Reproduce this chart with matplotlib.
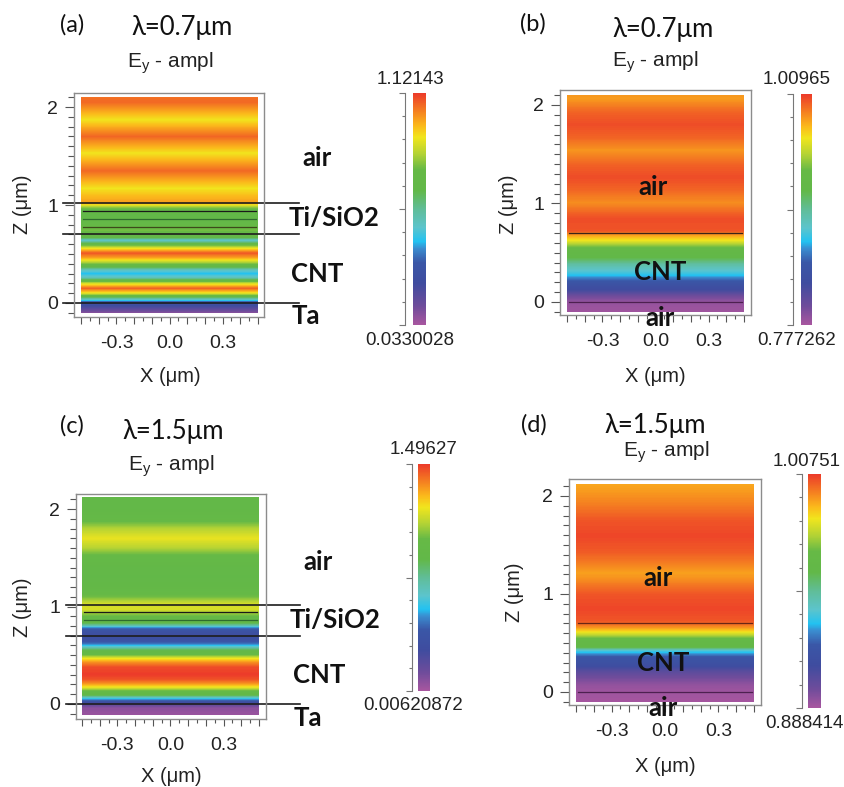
import numpy as np
import matplotlib.pyplot as plt
from matplotlib.colors import LinearSegmentedColormap, Normalize
from matplotlib.cm import ScalarMappable
from matplotlib.ticker import FixedLocator

plt.rcParams['font.family'] = ['Liberation Sans', 'DejaVu Sans']

W, H = 845, 787

# colour scale (fraction of range, colour)
cmap_stops = [0.0, 0.08, 0.18, 0.27, 0.33, 0.36, 0.42, 0.50, 0.58, 0.67, 0.74, 0.81, 0.86, 0.91, 1.0]
cmap_colors = ['#a8569f', '#6f4c9b', '#3f4c9f', '#3a57a7', '#3a8dd0', '#22c2f1', '#5cc4cc', '#60bd98',
               '#62b848', '#66b946', '#b5d334', '#f1e51d', '#fbb91b', '#f68b1f', '#ec3a2a']
cmap = LinearSegmentedColormap.from_list('fdtd', list(zip(cmap_stops, cmap_colors)), N=512)

# |Ey| profile along z (um) for each panel
z_a = [2.10, 2.05, 1.96, 1.87, 1.79, 1.70, 1.61, 1.53, 1.44, 1.35, 1.26, 1.17, 1.09, 1.02, 0.98,
       0.94, 0.90, 0.85, 0.80, 0.74, 0.70, 0.665, 0.64, 0.61, 0.56, 0.51, 0.46, 0.41, 0.36, 0.34,
       0.30, 0.26, 0.20, 0.15, 0.10, 0.065, 0.03, 0.01, -0.02, -0.06, -0.10]
amp_a = [1.056, 1.067, 0.991, 0.915, 0.991, 1.067, 0.991, 0.915, 0.991, 1.067, 0.991, 0.915, 0.969, 1.002, 0.817,
         0.708, 0.664, 0.686, 0.751, 0.773, 0.730, 0.664, 0.490, 0.664, 0.904, 1.089, 0.991, 0.817, 0.632, 0.523,
         0.425, 0.523, 0.882, 1.078, 0.904, 0.686, 0.468, 0.305, 0.251, 0.164, 0.087]

z_b = [2.10, 2.07, 1.93, 1.80, 1.67, 1.54, 1.40, 1.27, 1.14, 1.01, 0.85, 0.72, 0.70, 0.66, 0.62,
       0.57, 0.52, 0.45, 0.38, 0.30, 0.27, 0.22, 0.17, 0.12, 0.06, 0.0, -0.10]
amp_b = [0.986, 0.984, 0.999, 1.005, 0.999, 0.986, 0.999, 1.005, 0.999, 0.988, 1.005, 1.003, 0.993, 0.977, 0.963,
         0.940, 0.921, 0.912, 0.889, 0.870, 0.861, 0.842, 0.828, 0.817, 0.796, 0.784, 0.780]

z_c = [2.12, 2.00, 1.90, 1.80, 1.70, 1.60, 1.50, 1.40, 1.30, 1.20, 1.10, 1.03, 0.97, 0.92, 0.87,
       0.83, 0.80, 0.78, 0.74, 0.70, 0.66, 0.62, 0.60, 0.56, 0.51, 0.47, 0.43, 0.38, 0.30, 0.25,
       0.21, 0.17, 0.13, 0.09, 0.06, 0.03, 0.00, -0.04, -0.11]
amp_c = [0.900, 0.900, 0.960, 1.109, 1.198, 1.109, 0.960, 0.900, 0.885, 0.915, 1.019, 1.154, 1.168, 1.049, 0.930,
         0.870, 0.677, 0.453, 0.334, 0.304, 0.334, 0.453, 0.558, 0.826, 0.975, 1.198, 1.347, 1.466, 1.496, 1.451,
         1.347, 1.198, 0.975, 0.870, 0.602, 0.379, 0.185, 0.066, 0.036]

z_d = [2.12, 2.00, 1.90, 1.75, 1.59, 1.42, 1.28, 1.21, 1.14, 1.00, 0.85, 0.73, 0.70, 0.66, 0.62,
       0.58, 0.53, 0.46, 0.42, 0.39, 0.35, 0.27, 0.21, 0.15, 0.07, 0.0, -0.10]
amp_d = [0.993, 0.996, 0.999, 1.004, 1.006, 1.003, 0.997, 0.994, 0.997, 1.004, 1.006, 1.004, 1.002, 0.996, 0.987,
         0.977, 0.963, 0.960, 0.936, 0.928, 0.918, 0.912, 0.903, 0.898, 0.892, 0.890, 0.889]

# colour bar limits as printed
cb_a = ('0.0330028', '1.12143')
cb_b = ('0.777262', '1.00965')
cb_c = ('0.00620872', '1.49627')
cb_d = ('0.888414', '1.00751')

# layer boundaries (um)
cut_lines_ac = [1.02, 0.70, 0.0]
inner_a = [0.94, 0.857, 0.776]
inner_c = [0.944, 0.86]
inner_bd = [0.70, 0.0]

x_span = [-0.5, 0.5]
x_tick_pos = [-0.3, 0.0, 0.3]
x_tick_labels = ['-0.3', '0.0', '0.3']
z_tick_pos = [0, 1, 2]
z_tick_labels = ['0', '1', '2']

fig = plt.figure(figsize=(W / 100, H / 100), dpi=100)


def px_rect(x0, y0, x1, y1):
    return [x0 / W, 1 - y1 / H, (x1 - x0) / W, (y1 - y0) / H]


def ftext(x, y, s, **kw):
    fig.text(x / W, 1 - y / H, s, ha='center', va='center', **kw)


def draw_panel(frame, xlim, ylim, z, amp, cb_lab, cbar, cb_off):
    vmin, vmax = float(cb_lab[0]), float(cb_lab[1])
    ax = fig.add_axes(px_rect(*frame))
    C = np.column_stack([amp, amp])
    ax.contourf(x_span, z, C, levels=np.linspace(vmin, vmax, 256), cmap=cmap,
                extend='both', antialiased=False)
    ax.set_xlim(xlim)
    ax.set_ylim(ylim)

    xmaj = np.round(np.arange(-0.5, 0.51, 0.1), 2)
    labs = []
    for t in xmaj:
        hit = [l for p, l in zip(x_tick_pos, x_tick_labels) if abs(p - t) < 1e-6]
        labs.append(hit[0] if hit else '')
    ax.set_xticks(xmaj)
    ax.set_xticklabels(labs)
    ax.set_xticks(np.round(np.arange(-0.45, 0.5, 0.1), 2), minor=True)
    ax.set_yticks(z_tick_pos)
    ax.set_yticklabels(z_tick_labels)
    ax.set_yticks(np.round(np.arange(-0.1, 2.11, 0.1), 2), minor=True)
    ax.tick_params(which='both', direction='out', color='#555555', width=0.8,
                   labelsize=14, labelcolor='#222222')
    ax.tick_params(axis='y', which='major', length=6.5, pad=5)
    ax.tick_params(axis='y', which='minor', length=4)
    ax.tick_params(axis='x', which='major', length=5, pad=8)
    ax.tick_params(axis='x', which='minor', length=3)
    for sp in ax.spines.values():
        sp.set_color('#8c8c8c')
        sp.set_linewidth(1.0)

    cax = fig.add_axes(px_rect(*cbar))
    cb = fig.colorbar(ScalarMappable(Normalize(vmin, vmax), cmap), cax=cax, location='left')
    cb.outline.set_visible(False)
    cax.spines['left'].set_visible(True)
    cax.spines['left'].set_position(('outward', cb_off))
    cax.spines['left'].set_color('#777777')
    cb.set_ticks([vmin, (vmin + vmax) / 2, vmax])
    cax.yaxis.set_minor_locator(FixedLocator(np.linspace(vmin, vmax, 11)))
    cax.tick_params(which='both', left=True, right=False, labelleft=False, labelright=False,
                    color='#777777', width=0.8)
    cax.tick_params(which='major', length=4.5)
    cax.tick_params(which='minor', length=2)
    return ax


bold = dict(family=['Lato', 'DejaVu Sans'], weight='bold', size=18.5, color='#111111')
head = dict(family=['Lato', 'DejaVu Sans'], size=18.5, color='#111111')
tag = dict(family=['Lato', 'DejaVu Sans'], size=17, color='#111111')
lab = dict(size=14.5, color='#222222')
cbl = dict(size=13.5, color='#222222')
ey = dict(size=15, color='#222222')

# (a)
ax = draw_panel((74, 93, 264, 317), (-0.540, 0.534), (-0.143, 2.143), z_a, amp_a, cb_a,
                (413, 93, 426, 325), 5.8)
for zc in cut_lines_ac:
    ax.plot([-0.60, 0.73], [zc, zc], color='#1e1e1e', lw=1.2, clip_on=False)
for zc, col in zip(inner_a, ['#1a1a1a', '#2e6b2e', '#3d4a1a']):
    ax.plot([-0.49, 0.49], [zc, zc], color=col, lw=0.9)
ftext(72, 25, '(a)', **tag)
ftext(182, 28, 'λ=0.7μm', **head)
ftext(170, 63, 'E$_\\mathregular{y}$ - ampl', **ey)
ftext(170, 377, 'X (μm)', **lab)
ftext(23, 204, 'Z (μm)', rotation=90, **lab)
ftext(410, 80, cb_a[1], **cbl)
ftext(410, 340, cb_a[0], **cbl)
ftext(317, 158, 'air', **bold)
ftext(334, 218, 'Ti/SiO2', **bold)
ftext(317, 274, 'CNT', **bold)
ftext(306, 316, 'Ta', **bold)

# (b)
ax = draw_panel((560, 90, 751, 315), (-0.540, 0.540), (-0.132, 2.152), z_b, amp_b, cb_b,
                (801, 94, 812, 325), 5.8)
for zc, col in zip(inner_bd, ['#3b2418', '#4d2150']):
    ax.plot([-0.49, 0.49], [zc, zc], color=col, lw=0.9)
ftext(533, 24, '(b)', **tag)
ftext(663, 30, 'λ=0.7μm', **head)
ftext(655, 62, 'E$_\\mathregular{y}$ - ampl', **ey)
ftext(655, 377, 'X (μm)', **lab)
ftext(508, 204, 'Z (μm)', rotation=90, **lab)
ftext(797, 80, cb_b[1], **cbl)
ftext(797, 340, cb_b[0], **cbl)
ftext(653, 187, 'air', **bold)
ftext(660, 272, 'CNT', **bold)
ftext(660, 318, 'air', **bold)

# (c)
ax = draw_panel((76, 494, 266, 719), (-0.534, 0.540), (-0.154, 2.154), z_c, amp_c, cb_c,
                (418, 464, 430, 691), 4.3)
for zc in cut_lines_ac:
    ax.plot([-0.59, 0.73], [zc, zc], color='#1e1e1e', lw=1.2, clip_on=False)
for zc, col in zip(inner_c, ['#1a1a1a', '#2e6b2e']):
    ax.plot([-0.49, 0.49], [zc, zc], color=col, lw=0.9)
ftext(72, 426, '(c)', **tag)
ftext(173, 431, 'λ=1.5μm', **head)
ftext(171, 466, 'E$_\\mathregular{y}$ - ampl', **ey)
ftext(171, 777, 'X (μm)', **lab)
ftext(23, 607, 'Z (μm)', rotation=90, **lab)
ftext(424, 450, cb_c[1], **cbl)
ftext(413, 705, cb_c[0], **cbl)
ftext(318, 562, 'air', **bold)
ftext(335, 620, 'Ti/SiO2', **bold)
ftext(319, 675, 'CNT', **bold)
ftext(308, 718, 'Ta', **bold)

# (d)
ax = draw_panel((569, 479, 761, 705), (-0.539, 0.539), (-0.133, 2.173), z_d, amp_d, cb_d,
                (808, 474, 821, 708), 4.3)
for zc, col in zip(inner_bd, ['#6a2615', '#4d2150']):
    ax.plot([-0.49, 0.49], [zc, zc], color=col, lw=0.9)
ftext(534, 425, '(d)', **tag)
ftext(655, 426, 'λ=1.5μm', **head)
ftext(666, 452, 'E$_\\mathregular{y}$ - ampl', **ey)
ftext(665, 767, 'X (μm)', **lab)
ftext(515, 592, 'Z (μm)', rotation=90, **lab)
ftext(807, 462, cb_d[1], **cbl)
ftext(804, 723, cb_d[0], **cbl)
ftext(658, 578, 'air', **bold)
ftext(663, 663, 'CNT', **bold)
ftext(663, 708, 'air', **bold)

fig.savefig('out.png', dpi=100)
